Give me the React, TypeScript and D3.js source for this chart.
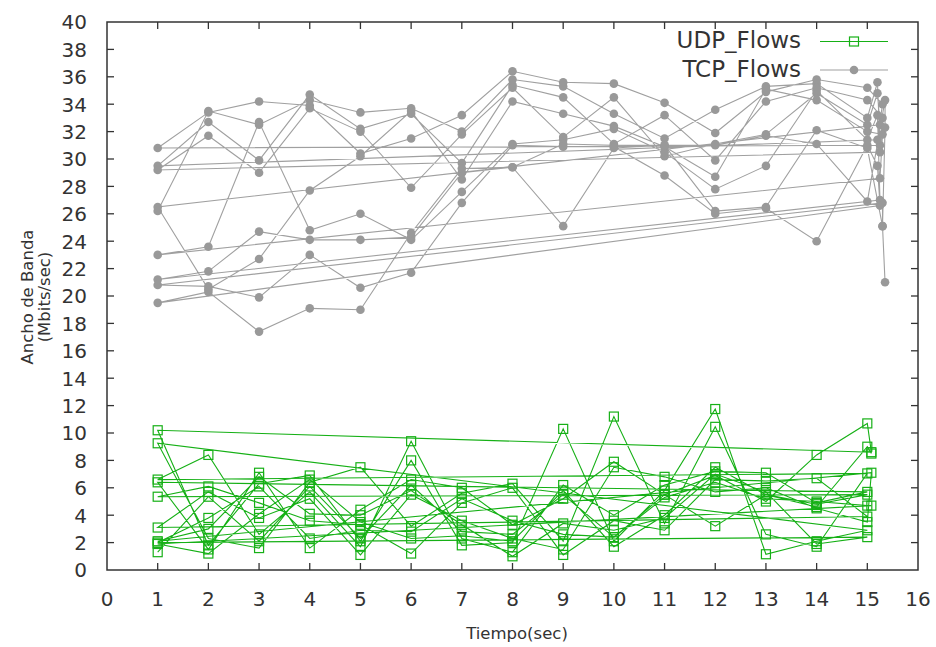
import React from "react";
import * as d3 from "d3";

// Axis ticks
const xTickValues: number[] = d3.range(0, 17);
const yTickValues: number[] = d3.range(0, 41, 2);

// TCP flows: bandwidth (Mbits/sec) sampled at t = 1..15 s, one row per flow
const tcpFlows: number[][] = [
  [26.2, 33.5, 32.5, 34.3, 33.4, 33.7, 32.0, 35.8, 35.3, 33.3, 31.5, 33.6, 35.3, 35.5, 33.0],
  [30.8, 33.4, 34.2, 33.9, 30.4, 31.5, 33.2, 36.4, 35.6, 35.5, 34.1, 31.9, 34.9, 35.8, 35.2],
  [29.5, 32.7, 29.9, 34.7, 32.2, 33.3, 29.7, 35.4, 34.5, 31.1, 33.2, 29.9, 34.2, 35.2, 34.3],
  [29.2, 31.7, 29.0, 33.7, 32.0, 27.9, 31.8, 35.2, 31.6, 34.5, 30.2, 31.1, 31.8, 34.8, 32.5],
  [26.5, 20.5, 22.7, 27.7, 30.2, 33.5, 28.5, 34.2, 33.3, 32.4, 30.9, 28.7, 35.1, 34.3, 32.0],
  [23.0, 23.6, 32.7, 24.8, 26.0, 24.1, 27.6, 31.1, 31.4, 32.2, 30.5, 27.8, 29.5, 35.0, 31.4],
  [21.2, 21.8, 24.7, 24.1, 24.1, 24.3, 29.0, 29.4, 31.1, 31.0, 31.0, 26.2, 26.5, 32.1, 30.8],
  [20.8, 20.7, 19.9, 23.0, 20.6, 21.7, 26.8, 31.0, 30.9, 30.9, 28.8, 26.0, 26.4, 24.0, 31.0],
  [19.5, 20.3, 17.4, 19.1, 19.0, 24.6, 29.3, 29.4, 25.1, 30.8, 31.0, 31.0, 31.7, 31.1, 26.9],
];

// TCP samples taken just after t = 15 s: [time, bandwidth]
const tcpTails: [number, number][][] = [
  [[15.2, 35.6], [15.25, 31.0]],
  [[15.3, 34.0], [15.2, 31.4]],
  [[15.3, 33.0], [15.25, 30.5]],
  [[15.2, 34.8], [15.25, 32.5]],
  [[15.3, 31.8], [15.25, 28.6]],
  [[15.2, 33.2], [15.25, 27.0]],
  [[15.3, 25.1], [15.3, 26.8]],
  [[15.2, 29.5], [15.25, 26.6]],
  [[15.35, 34.3], [15.35, 32.3], [15.3, 25.1], [15.35, 21.0]],
];

// UDP flows: bandwidth (Mbits/sec) sampled at t = 1..15 s, one row per flow
const udpFlows: number[][] = [
  [1.3, 5.35, 2.1, 6.1, 2.3, 6.2, 2.8, 2.6, 5.5, 2.4, 5.5, 6.9, 5.0, 8.4, 10.7],
  [10.2, 1.8, 6.3, 6.9, 2.1, 8.0, 1.8, 2.0, 10.3, 2.1, 5.8, 11.75, 1.15, 2.1, 2.9],
  [9.25, 2.3, 1.6, 6.4, 7.5, 3.2, 5.6, 6.3, 2.1, 11.2, 3.4, 10.45, 2.6, 1.7, 7.05],
  [6.6, 8.4, 2.6, 5.7, 1.7, 9.4, 2.3, 1.3, 6.2, 4.0, 6.2, 7.2, 7.1, 4.9, 5.7],
  [6.4, 1.5, 7.1, 1.6, 4.4, 6.6, 6.0, 3.3, 5.2, 7.9, 5.5, 3.2, 5.5, 4.8, 5.5],
  [5.35, 6.1, 4.9, 3.6, 3.3, 1.2, 4.9, 6.0, 1.1, 3.6, 2.9, 6.6, 6.5, 6.7, 3.9],
  [3.1, 5.7, 3.8, 5.2, 1.1, 5.5, 3.6, 2.3, 1.5, 7.5, 6.8, 5.7, 6.0, 4.5, 3.5],
  [2.1, 3.0, 6.8, 4.1, 4.0, 5.8, 3.3, 1.0, 3.4, 2.9, 3.8, 7.0, 5.7, 1.9, 2.4],
  [2.0, 3.8, 6.1, 2.3, 2.9, 2.8, 5.2, 3.6, 2.6, 2.4, 5.3, 6.4, 5.2, 5.0, 4.7],
  [1.9, 1.2, 4.1, 6.6, 3.5, 2.3, 2.5, 2.1, 5.8, 1.7, 4.0, 7.5, 5.5, 4.6, 9.0],
];

// UDP samples taken just after t = 15 s: [time, bandwidth]
const udpTails: [number, number][][] = [
  [[15.08, 8.6]],
  [],
  [],
  [],
  [],
  [],
  [[15.08, 7.1]],
  [],
  [[15.08, 4.7]],
  [[15.08, 8.5]],
];

const seriesLabels = ["UDP_Flows", "TCP_Flows"];
const xTitle = "Tiempo(sec)";
const yTitleLines = ["Ancho de Banda", "(Mbits/sec)"];

const WIDTH = 936;
const HEIGHT = 647;
const M = { left: 107, right: 918, top: 22, bottom: 570 };

const TCP_COLOR = "#a0a0a0";
const TCP_MARK = "#999999";
const UDP_COLOR = "#16b016";
const AXIS_COLOR = "#333333";
const FONT = "'DejaVu Sans', sans-serif";

// All flows of one protocol are written as a single sequence, so the last
// sample of a flow joins the first sample of the next one.
function chainFlows(flows: number[][], tails: [number, number][][]): [number, number][] {
  const pts: [number, number][] = [];
  flows.forEach((flow, i) => {
    flow.forEach((v, j) => pts.push([j + 1, v]));
    (tails[i] || []).forEach((p) => pts.push(p));
  });
  return pts;
}

export default function App() {
  const x = d3.scaleLinear().domain([0, 16]).range([M.left, M.right]);
  const y = d3.scaleLinear().domain([0, 40]).range([M.bottom, M.top]);
  const line = d3
    .line<[number, number]>()
    .x((d) => x(d[0]))
    .y((d) => y(d[1]));

  const tcpPts = chainFlows(tcpFlows, tcpTails);
  const udpPts = chainFlows(udpFlows, udpTails);
  const tick = 7;
  const sq = 9;

  return (
    <svg
      width={WIDTH}
      height={HEIGHT}
      style={{ position: "absolute", left: 0, top: 0, display: "block", background: "#fff" }}
    >
      <rect x={0} y={0} width={WIDTH} height={HEIGHT} fill="#fff" />

      {/* UDP series */}
      <path d={line(udpPts) || ""} fill="none" stroke={UDP_COLOR} strokeWidth={1.1} />
      {udpPts.map((p, i) => (
        <rect
          key={"u" + i}
          x={x(p[0]) - sq / 2}
          y={y(p[1]) - sq / 2}
          width={sq}
          height={sq}
          fill="none"
          stroke={UDP_COLOR}
          strokeWidth={1.2}
        />
      ))}

      {/* TCP series */}
      <path d={line(tcpPts) || ""} fill="none" stroke={TCP_COLOR} strokeWidth={1.1} />
      {tcpPts.map((p, i) => (
        <circle key={"t" + i} cx={x(p[0])} cy={y(p[1])} r={4.3} fill={TCP_MARK} />
      ))}

      {/* frame */}
      <rect
        x={M.left}
        y={M.top}
        width={M.right - M.left}
        height={M.bottom - M.top}
        fill="none"
        stroke={AXIS_COLOR}
        strokeWidth={1.5}
      />

      {/* x ticks (mirrored on top) */}
      {xTickValues.map((t) => (
        <g key={"xt" + t}>
          {t > 0 && t < 16 && (
            <>
              <line x1={x(t)} x2={x(t)} y1={M.bottom} y2={M.bottom - tick} stroke={AXIS_COLOR} strokeWidth={1.3} />
              <line x1={x(t)} x2={x(t)} y1={M.top} y2={M.top + tick} stroke={AXIS_COLOR} strokeWidth={1.3} />
            </>
          )}
          <text
            x={x(t)}
            y={606}
            textAnchor="middle"
            fontFamily={FONT}
            fontSize={20}
            fill={AXIS_COLOR}
          >
            {t}
          </text>
        </g>
      ))}

      {/* y ticks (mirrored on right) */}
      {yTickValues.map((t) => (
        <g key={"yt" + t}>
          {t > 0 && t < 40 && (
            <>
              <line x1={M.left} x2={M.left + tick} y1={y(t)} y2={y(t)} stroke={AXIS_COLOR} strokeWidth={1.3} />
              <line x1={M.right} x2={M.right - tick} y1={y(t)} y2={y(t)} stroke={AXIS_COLOR} strokeWidth={1.3} />
            </>
          )}
          <text
            x={87}
            y={y(t) + 7.3}
            textAnchor="end"
            fontFamily={FONT}
            fontSize={20}
            fill={AXIS_COLOR}
          >
            {t}
          </text>
        </g>
      ))}

      {/* axis titles */}
      <text x={517} y={639} textAnchor="middle" fontFamily={FONT} fontSize={16.5} fill={AXIS_COLOR}>
        {xTitle}
      </text>
      {yTitleLines.map((s, i) => (
        <text
          key={"yl" + i}
          transform={`translate(${33 + i * 16.5},297) rotate(-90)`}
          textAnchor="middle"
          fontFamily={FONT}
          fontSize={16.5}
          fill={AXIS_COLOR}
        >
          {s}
        </text>
      ))}

      {/* legend */}
      <g>
        <text x={801} y={48} textAnchor="end" fontFamily={FONT} fontSize={23} fill={AXIS_COLOR}>
          {seriesLabels[0]}
        </text>
        <line x1={820} x2={888} y1={41.5} y2={41.5} stroke={UDP_COLOR} strokeWidth={1.1} />
        <rect x={854 - sq / 2} y={41.5 - sq / 2} width={sq} height={sq} fill="none" stroke={UDP_COLOR} strokeWidth={1.2} />
        <text x={801} y={77} textAnchor="end" fontFamily={FONT} fontSize={23} fill={AXIS_COLOR}>
          {seriesLabels[1]}
        </text>
        <line x1={820} x2={888} y1={70} y2={70} stroke={TCP_COLOR} strokeWidth={1.1} />
        <circle cx={854} cy={70} r={4.3} fill={TCP_MARK} />
      </g>
    </svg>
  );
}
